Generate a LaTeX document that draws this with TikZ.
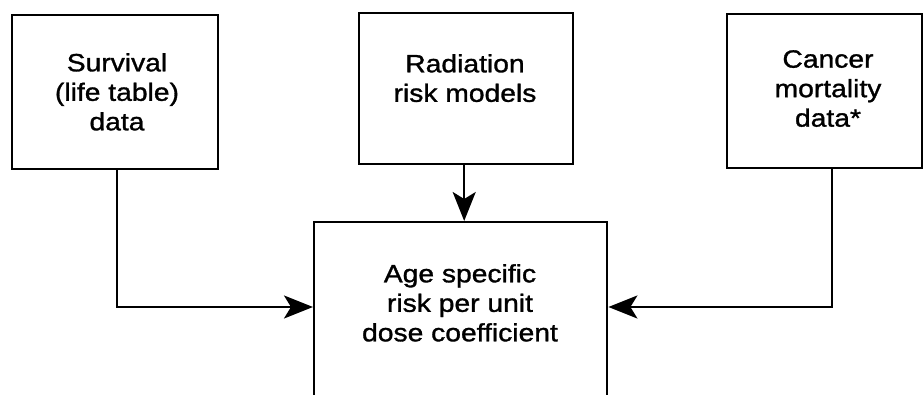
\documentclass[tikz,border=0pt]{standalone}
\usepackage{fontspec}
\setmainfont{Liberation Sans}[FakeStretch=1.13, FakeBold=1.2]
\usetikzlibrary{arrows.meta}
\begin{document}
\begin{tikzpicture}[x=1pt,y=-1pt,
  box/.style={draw=black, line width=2.4pt, rectangle, inner sep=0pt, anchor=north west},
  lbl/.style={inner sep=0pt, align=center, anchor=north, font=\fontsize{25}{29.5}\selectfont},
  conn/.style={draw=black, line width=2.2pt, -{Stealth[length=29pt, width=23pt, inset=7pt]}}]
\useasboundingbox (0,0) rectangle (923,395);
\clip (0,0) rectangle (923,395);
\node[box, minimum width=206pt, minimum height=154pt] (surv) at (11,14) {};
\node[box, minimum width=214pt, minimum height=151pt] (rad) at (358,12) {};
\node[box, minimum width=195pt, minimum height=154pt] (canc) at (726,13) {};
\node[box, minimum width=293pt, minimum height=200pt] (bot) at (313,221) {};
\node[lbl] (survt) at (117,53) {Survival\\(life table)\\data};
\node[lbl] (radt) at (465,54) {Radiation\\risk models};
\node[lbl] (canct) at (828,50) {Cancer\\mortality\\data*};
\node[lbl] (bott) at (460,264) {Age specific\\risk per unit\\dose coefficient};
\draw[conn] ([xshift=2pt]surv.south) |- ([yshift=-86pt]bot.north west);
\draw[conn] ([xshift=7pt]canc.south) |- ([yshift=-86pt]bot.north east);
\draw[conn] ([xshift=-2pt]rad.south) -- ([xshift=-2pt]rad.south |- bot.north);
\end{tikzpicture}
\end{document}
